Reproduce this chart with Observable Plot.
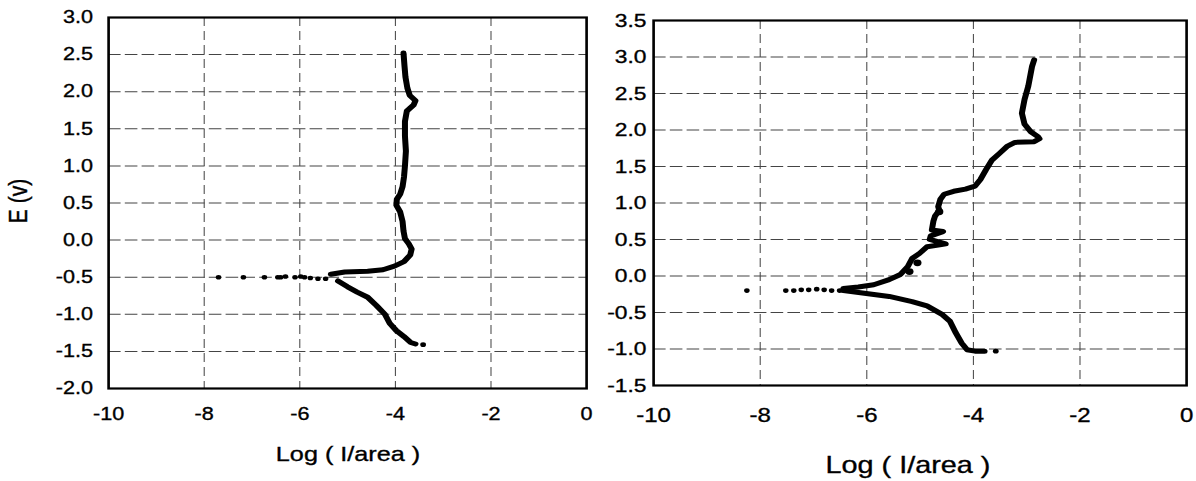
<!DOCTYPE html>
<html><head><meta charset="utf-8">
<script src="https://cdn.jsdelivr.net/npm/d3@7"></script>
<script src="https://cdn.jsdelivr.net/npm/@observablehq/plot@0.6"></script>
<style>
html,body{margin:0;padding:0;background:#fff;width:1196px;height:481px;overflow:hidden;}
#wrap{position:absolute;left:0;top:0;width:996.67px;height:481px;transform:scaleX(1.2);transform-origin:0 0;font-family:"Liberation Sans",Arial,sans-serif;}
#wrap svg{position:absolute;top:0;}
#wrap svg text{stroke:#000;stroke-width:0.35px;}
.t{position:absolute;white-space:nowrap;color:#000;line-height:1;transform:translate(-50%,-50%);-webkit-text-stroke:0.35px #000;}
</style></head><body><div id="wrap"></div>
<script>
// ---- data (x = Log(I/area), E = potential in V) ----
const xTicks = [-10, -8, -6, -4, -2, 0];
const xGrid = [-8, -6, -4, -2];
const leftYTicks = [-2.0, -1.5, -1.0, -0.5, 0.0, 0.5, 1.0, 1.5, 2.0, 2.5, 3.0];
const rightYTicks = [-1.5, -1.0, -0.5, 0.0, 0.5, 1.0, 1.5, 2.0, 2.5, 3.0, 3.5];

const leftTailX = [-7.70,-7.18,-6.74,-6.46,-6.40,-6.30,-6.10,-5.98,-5.90,-5.78,-5.62,-5.46];
const leftTailE = [-0.50,-0.50,-0.50,-0.50,-0.50,-0.49,-0.50,-0.49,-0.50,-0.51,-0.52,-0.52];
const leftAnodicX = [-5.35,-5.06,-4.58,-4.26,-4.02,-3.82,-3.69,-3.66,-3.72,-3.80,-3.83,-3.85,-3.90,-3.98,-3.97,-3.90,-3.85,-3.82,-3.80,-3.78,-3.80,-3.80,-3.76,-3.62,-3.58,-3.70,-3.75,-3.79,-3.81,-3.83];
const leftAnodicE = [-0.46,-0.43,-0.42,-0.40,-0.35,-0.29,-0.20,-0.12,-0.05,0.02,0.12,0.25,0.38,0.47,0.55,0.62,0.72,0.85,1.00,1.20,1.40,1.60,1.74,1.82,1.88,1.95,2.05,2.20,2.35,2.52];
const leftCathodicX = [-5.20,-5.00,-4.80,-4.58,-4.40,-4.22,-4.12,-3.98,-3.82,-3.68,-3.58];
const leftCathodicE = [-0.55,-0.63,-0.70,-0.77,-0.88,-1.00,-1.12,-1.22,-1.30,-1.38,-1.40];
const leftEndX = [-3.42];
const leftEndE = [-1.41];

const rightTailX = [-8.25,-7.52,-7.37,-7.23,-7.09,-6.94,-6.80,-6.66,-6.51];
const rightTailE = [-0.20,-0.20,-0.20,-0.19,-0.19,-0.18,-0.19,-0.20,-0.20];
const rightAnodicX = [-6.44,-6.16,-5.87,-5.58,-5.37,-5.23,-5.15,-5.01,-4.87,-4.60,-4.52,-4.62,-4.82,-4.80,-4.60,-4.57,-4.78,-4.75,-4.72,-4.64,-4.66,-4.62,-4.55,-4.37,-4.15,-3.97,-3.87,-3.76,-3.65,-3.51,-3.36,-3.22,-2.86,-2.76,-2.79,-2.93,-3.04,-3.09,-3.04,-2.97,-2.90,-2.86];
const rightAnodicE = [-0.17,-0.15,-0.12,-0.05,0.02,0.13,0.24,0.31,0.40,0.43,0.44,0.46,0.50,0.55,0.60,0.61,0.63,0.75,0.82,0.90,0.95,1.05,1.12,1.16,1.19,1.23,1.32,1.46,1.59,1.68,1.78,1.83,1.84,1.88,1.91,1.98,2.08,2.23,2.42,2.60,2.87,2.96];
const rightBlobX = [-5.05,-5.20,-4.64];
const rightBlobE = [0.18,0.06,0.88];
const rightCathodicX = [-6.44,-6.01,-5.58,-5.15,-4.87,-4.58,-4.44,-4.33,-4.22,-4.12,-3.97,-3.79];
const rightCathodicE = [-0.20,-0.24,-0.28,-0.35,-0.41,-0.53,-0.62,-0.78,-0.92,-1.01,-1.03,-1.03];
const rightEndX = [-3.58];
const rightEndE = [-1.03];

const zip = (xs, es) => xs.map((x, i) => ({x, e: es[i]}));

function panel(o) {
  return Plot.plot({
    width: o.width, height: 481,
    marginLeft: o.mL, marginRight: o.mR, marginTop: o.mT, marginBottom: o.mB,
    style: {fontFamily: '"Liberation Sans", Arial, sans-serif', background: "transparent"},
    x: {domain: [-10, 0], label: null},
    y: {domain: o.yDomain, label: null},
    marks: [
      Plot.gridX(xGrid, {stroke: "#444", strokeOpacity: 1, strokeWidth: 0.85, strokeDasharray: "9,5"}),
      Plot.gridY(o.yTicks.slice(1, -1), {stroke: "#444", strokeOpacity: 1, strokeWidth: 1, strokeDasharray: "10.5,3.5"}),
      Plot.axisX(xTicks, {tickSize: 0, tickPadding: o.padX, fontSize: o.fsX, tickFormat: d => String(d), label: null}),
      Plot.axisY(o.yTicks, {tickSize: 0, tickPadding: o.padY, fontSize: o.fsY, tickFormat: d => d.toFixed(1), label: null}),
      Plot.line(o.anodic, {x: "x", y: "e", stroke: "#000", strokeWidth: 5, strokeLinejoin: "round", strokeLinecap: "round"}),
      Plot.line(o.cathodic, {x: "x", y: "e", stroke: "#000", strokeWidth: 5, strokeLinejoin: "round", strokeLinecap: "round"}),
      Plot.dot(o.tail, {x: "x", y: "e", r: 2.3, fill: "#000"}),
      Plot.dot(o.blobs, {x: "x", y: "e", r: 3.4, fill: "#000"}),
      Plot.dot(o.end, {x: "x", y: "e", r: 2.4, fill: "#000"}),
      Plot.frame({stroke: "#000", strokeWidth: 2.2})
    ]
  });
}

const wrap = document.getElementById("wrap");
const S = 1.2;

const left = panel({
  width: 500, mL: 90, mR: 11.67, mT: 17, mB: 93,
  yDomain: [-2, 3], yTicks: leftYTicks,
  anodic: zip(leftAnodicX, leftAnodicE), cathodic: zip(leftCathodicX, leftCathodicE),
  tail: zip(leftTailX, leftTailE), blobs: [], end: zip(leftEndX, leftEndE),
  padX: 19, padY: 13, fsX: 18, fsY: 18
});
left.style.left = "0px";
wrap.appendChild(left);

const right = panel({
  width: 496.67, mL: 44.17, mR: 8.33, mT: 20, mB: 96,
  yDomain: [-1.5, 3.5], yTicks: rightYTicks,
  anodic: zip(rightAnodicX, rightAnodicE), cathodic: zip(rightCathodicX, rightCathodicE),
  tail: zip(rightTailX, rightTailE), blobs: zip(rightBlobX, rightBlobE), end: zip(rightEndX, rightEndE),
  padX: 22, padY: 6, fsX: 20, fsY: 19
});
right.style.left = (600 / S) + "px";
wrap.appendChild(right);

function label(text, cx, cy, fs, rot) {
  const d = document.createElement("div");
  d.className = "t";
  d.textContent = text;
  d.style.left = (cx / S) + "px";
  d.style.top = cy + "px";
  d.style.fontSize = fs + "px";
  if (rot) d.style.transform = "translate(-50%,-50%) rotate(-90deg)";
  wrap.appendChild(d);
}
label("Log ( I/area )", 348, 453, 21, false);
label("Log ( I/area )", 908, 465, 24, false);
label("E (v)", 18, 201, 21, true);
</script></body></html>
